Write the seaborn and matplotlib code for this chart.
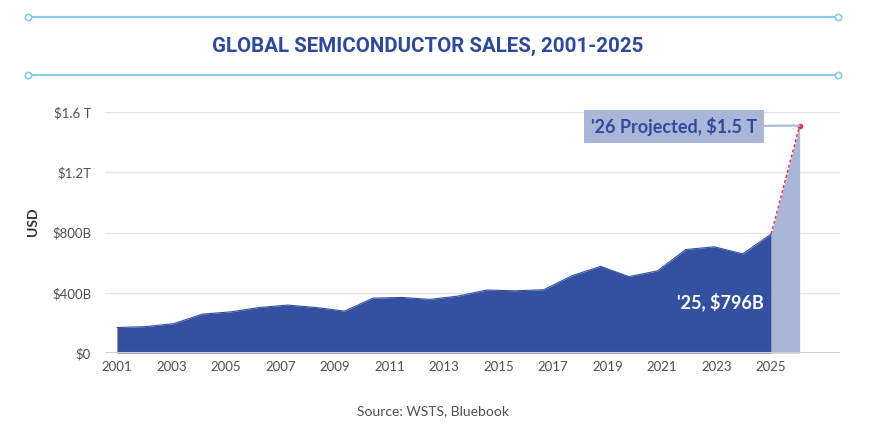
import numpy as np
import pandas as pd
import matplotlib
matplotlib.use("Agg")
import matplotlib.pyplot as plt
from matplotlib.lines import Line2D
import seaborn as sns

# ---- data ----
tick_years = [2001, 2003, 2005, 2007, 2009, 2011, 2013, 2015, 2017, 2019, 2021, 2023, 2025]
sales_b = [169, 175, 195, 258, 273, 302, 318, 302, 278, 364, 369, 356, 378,
           418, 413, 420, 513, 575, 507, 545, 687, 705, 658, 790]
projected_b = 1510
y_ticks = [0, 400, 800, 1200, 1600]
y_tick_labels = ["$0", "$400B", "$800B", "$1.2T", "$1.6 T"]
title = "GLOBAL SEMICONDUCTOR SALES, 2001-2025"
label_25 = "'25, $796B"
label_26 = "'26 Projected, $1.5 T"
source = "Source: WSTS, Bluebook"

DARK = "#3450A1"
LIGHT = "#AAB6D8"
RED = "#E2313C"
CYAN = "#86CDEA"
GRAY = "#505050"

sns.set_theme(style="white")
plt.rcParams['font.family'] = ['Lato', 'DejaVu Sans']

W, H = 871, 438
fig = plt.figure(figsize=(W / 100, H / 100), dpi=100)
fig.patch.set_facecolor("white")
ax = fig.add_axes([105 / W, 1 - 353 / H, 735 / W, 241 / H])

idx = np.arange(len(sales_b))
df = pd.DataFrame({"idx": idx, "sales": sales_b})
last = len(sales_b) - 1
proj = pd.DataFrame({"idx": [last, last + 1], "sales": [sales_b[-1], projected_b]})

# grid
for yv in y_ticks[1:]:
    ax.axhline(yv, color="#e4e4e4", lw=1, zorder=0)

ax.fill_between(df["idx"], df["sales"], color=DARK, lw=0, zorder=2)
sns.lineplot(data=df, x="idx", y="sales", color=DARK, lw=0.8, ax=ax, zorder=3)
ax.fill_between(proj["idx"], proj["sales"], color=LIGHT, lw=0, zorder=2)
sns.lineplot(data=proj, x="idx", y="sales", color=RED, lw=1.0,
             linestyle=(0, (2.2, 1.6)), ax=ax, zorder=4)
ax.plot([last + 1], [projected_b], "o", ms=3, color=RED, zorder=5)

ax.axhline(0, color="#cfcfcf", lw=2.2, zorder=4)

ax.set_xlim(-0.42, 25.42)
ax.set_ylim(0, 1600)
tick_pos = [(y - tick_years[0]) * last / (tick_years[-1] - tick_years[0]) for y in tick_years]
ax.set_xticks(tick_pos)
ax.set_xticklabels([str(y) for y in tick_years])
ax.set_yticks(y_ticks)
ax.set_yticklabels(y_tick_labels)
ax.tick_params(axis="x", length=0, pad=6, labelsize=9.5, labelcolor=GRAY)
ax.tick_params(axis="y", length=0, pad=10, labelsize=9.5, labelcolor=GRAY)
for s in ax.spines.values():
    s.set_visible(False)
ax.set_xlabel("")
ax.set_ylabel("USD", fontsize=10, fontweight="bold", color="#333333")
ax.yaxis.set_label_coords(-0.09, 0.545)

# annotations
ax.annotate(label_25, xy=(last, 0), xytext=(-7, 51), textcoords="offset pixels",
            ha="right", va="center", color="white", fontsize=13, fontweight="bold", zorder=6)
ax.annotate(label_26, xy=(last + 1, projected_b), xytext=(-126, -1), textcoords="offset pixels",
            ha="center", va="center", color="#2F4A9B", fontsize=13, fontweight="bold",
            bbox=dict(boxstyle="square,pad=0.38", fc=LIGHT, ec="none"),
            arrowprops=dict(arrowstyle="-", color=LIGHT, lw=1.5, shrinkA=0, shrinkB=0),
            annotation_clip=False, zorder=6)

# title and decorative lines
for yy in (17, 75):
    fig.add_artist(Line2D([28 / W, 838 / W], [1 - yy / H, 1 - yy / H], color=CYAN, lw=1.5,
                          marker="o", markevery=[0, 1], ms=4.5, mfc="white", mec=CYAN, mew=1.2))
fig.text(428 / W, 1 - 46 / H, title, ha="center", va="center", fontsize=14.8, fontweight="bold",
         fontstretch="normal", color="#2F4A9B", family=["Roboto", "DejaVu Sans"])
fig.text(433 / W, 1 - 411 / H, source, ha="center", va="center", fontsize=10, color=GRAY)

fig.savefig("out.png", dpi=100, facecolor="white")
